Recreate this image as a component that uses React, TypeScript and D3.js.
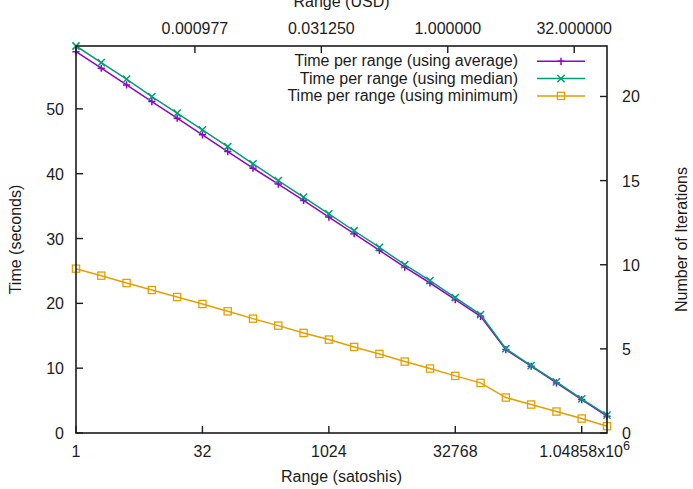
import React from "react";
import * as d3 from "d3";

// range in satoshis (x) and measured times in seconds
const rangeSats = [
  1, 2, 4, 8, 16, 32, 64, 128, 256, 512, 1024, 2048, 4096, 8192, 16384,
  32768, 65536, 131072, 262144, 524288, 1048576, 2097152,
];
const timeAverage = [
  58.83, 56.27, 53.7, 51.13, 48.57, 46.0, 43.42, 40.86, 38.4, 35.87, 33.31,
  30.74, 28.17, 25.6, 23.14, 20.57, 18.0, 12.87, 10.3, 7.73, 5.16, 2.6,
];
const timeMedian = [
  59.7, 57.13, 54.58, 51.9, 49.34, 46.76, 44.19, 41.53, 38.95, 36.39, 33.82,
  31.2, 28.63, 25.96, 23.5, 20.9, 18.26, 13.0, 10.4, 7.89, 5.27, 2.75,
];
const timeMinimum = [
  25.35, 24.27, 23.14, 22.06, 20.98, 19.9, 18.77, 17.64, 16.56, 15.44, 14.41,
  13.28, 12.2, 11.02, 9.94, 8.81, 7.73, 5.47, 4.39, 3.31, 2.23, 1.05,
];

const seriesNames = [
  "Time per range (using average)",
  "Time per range (using median)",
  "Time per range (using minimum)",
];
const seriesColors = ["#9400d3", "#009e73", "#e69f00"];

const xTicks = [1, 32, 1024, 32768, 1048576];
const x2Ticks = [0.0009765625, 0.03125, 1, 32];
const yTicks = [0, 10, 20, 30, 40, 50];
const y2Ticks = [0, 5, 10, 15, 20];
const usdPerSat = 0.0000375;

const W = 693,
  H = 489;
const margin = { left: 76, right: 86, top: 46, bottom: 56 };
const font = "'Liberation Sans', Arial, Helvetica, sans-serif";
const ink = "#1c1c1c";
const tickLen = 7;

const Marker = ({ kind, x, y, color }: any) => {
  const s = 3.6;
  if (kind === 0)
    return (
      <path d={`M${x - s},${y}H${x + s}M${x},${y - s}V${y + s}`} stroke={color} strokeWidth={1.5} />
    );
  if (kind === 1)
    return (
      <path
        d={`M${x - s},${y - s}L${x + s},${y + s}M${x - s},${y + s}L${x + s},${y - s}`}
        stroke={color}
        strokeWidth={1.5}
      />
    );
  return (
    <rect x={x - 3.6} y={y - 3.6} width={7.2} height={7.2} fill="none" stroke={color} strokeWidth={1.3} />
  );
};

const App = () => {
  const x = d3
    .scaleLog()
    .base(2)
    .domain([1, 2097152])
    .range([margin.left, W - margin.right]);
  const x2 = d3
    .scaleLog()
    .base(2)
    .domain([usdPerSat, usdPerSat * 2097152])
    .range([margin.left, W - margin.right]);
  const y = d3
    .scaleLinear()
    .domain([0, 59.7])
    .range([H - margin.bottom, margin.top]);
  const y2 = d3
    .scaleLinear()
    .domain([0, 23])
    .range([H - margin.bottom, margin.top]);

  const line = d3
    .line<number>()
    .x((_, i) => x(rangeSats[i]))
    .y((d) => y(d));

  const allSeries = [timeAverage, timeMedian, timeMinimum];
  const left = margin.left,
    right = W - margin.right,
    top = margin.top,
    bottom = H - margin.bottom;
  const midX = (left + right) / 2;
  const midY = (top + bottom) / 2;

  const legendLineX0 = 537,
    legendLineX1 = 585,
    legendTextX = 518,
    legendY0 = 61.3,
    legendStep = 17.3;

  return (
    <svg
      width={W}
      height={H}
      style={{ position: "absolute", left: 0, top: 0, background: "#fff" }}
      fontFamily={font}
      fontSize={16}
    >
      <rect width={W} height={H} fill="#fff" />

      {/* ticks */}
      {yTicks.map((t) => (
        <g key={"y" + t}>
          <line x1={left} x2={left + tickLen} y1={y(t)} y2={y(t)} stroke={ink} strokeWidth={1.4} />
          <text x={left - 12} y={y(t) + 6} textAnchor="end" fill={ink}>
            {t}
          </text>
        </g>
      ))}
      {y2Ticks.map((t) => (
        <g key={"y2" + t}>
          <line x1={right} x2={right - tickLen} y1={y2(t)} y2={y2(t)} stroke={ink} strokeWidth={1.4} />
          <text x={right + 15} y={y2(t) + 6} textAnchor="start" fill={ink}>
            {t}
          </text>
        </g>
      ))}
      {xTicks.map((t) => (
        <g key={"x" + t}>
          <line x1={x(t)} x2={x(t)} y1={bottom} y2={bottom - tickLen} stroke={ink} strokeWidth={1.4} />
          {t === 1048576 ? (
            <text x={x(t) + 3} y={457} textAnchor="middle" fill={ink}>
              1.04858x10
              <tspan fontSize={12.8} dy={-7}>
                6
              </tspan>
            </text>
          ) : (
            <text x={x(t)} y={457} textAnchor="middle" fill={ink}>
              {t}
            </text>
          )}
        </g>
      ))}
      {x2Ticks.map((t) => (
        <g key={"x2" + t}>
          <line x1={x2(t)} x2={x2(t)} y1={top} y2={top + tickLen} stroke={ink} strokeWidth={1.4} />
          <text x={x2(t)} y={34} textAnchor="middle" fill={ink}>
            {t.toFixed(6)}
          </text>
        </g>
      ))}

      {/* axis titles */}
      <text x={midX} y={482} textAnchor="middle" fill={ink}>
        Range (satoshis)
      </text>
      <text x={midX} y={7} textAnchor="middle" fill={ink}>
        Range (USD)
      </text>
      <text transform={`translate(21,${midY}) rotate(-90)`} textAnchor="middle" fill={ink}>
        Time (seconds)
      </text>
      <text transform={`translate(687,${midY}) rotate(-90)`} textAnchor="middle" fill={ink}>
        Number of Iterations
      </text>

      {/* legend */}
      {seriesNames.map((name, k) => {
        const ly = legendY0 + k * legendStep;
        return (
          <g key={name}>
            <text x={legendTextX} y={ly + 5} textAnchor="end" fill={ink}>
              {name}
            </text>
            <line x1={legendLineX0} x2={legendLineX1} y1={ly} y2={ly} stroke={seriesColors[k]} strokeWidth={1.5} />
            <Marker kind={k} x={(legendLineX0 + legendLineX1) / 2} y={ly} color={seriesColors[k]} />
          </g>
        );
      })}

      {/* series */}
      {allSeries.map((s, k) => (
        <g key={"s" + k}>
          <path d={line(s) || ""} fill="none" stroke={seriesColors[k]} strokeWidth={1.5} />
          {s.map((v, i) => (
            <Marker key={i} kind={k} x={x(rangeSats[i])} y={y(v)} color={seriesColors[k]} />
          ))}
        </g>
      ))}

      {/* border */}
      <rect x={left} y={top} width={right - left} height={bottom - top} fill="none" stroke={ink} strokeWidth={1.6} />
    </svg>
  );
};

export default App;
